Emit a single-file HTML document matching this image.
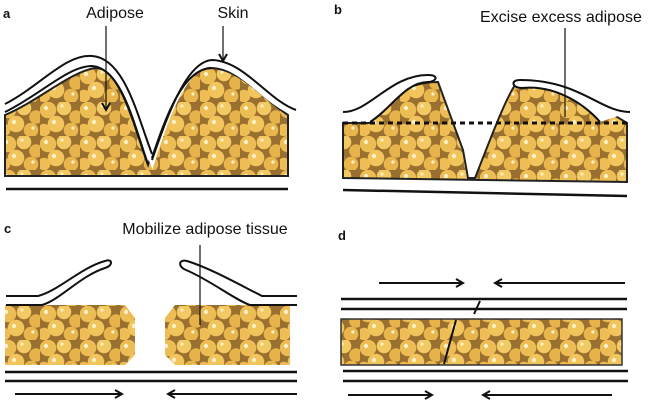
<!DOCTYPE html>
<html><head><style>
html,body{margin:0;padding:0;background:#fff;width:660px;height:404px;overflow:hidden}
svg{display:block}
text{font-family:"Liberation Sans",sans-serif;fill:#111}
</style></head><body>
<svg width="660" height="404" viewBox="0 0 660 404" xmlns="http://www.w3.org/2000/svg">
<defs>
<pattern id="fat" width="40" height="34" patternUnits="userSpaceOnUse">
<rect width="40" height="34" fill="#9a7030"/>
<circle cx="8" cy="8" r="8.3" fill="#ecbd55"/>
<circle cx="24" cy="6" r="7.3" fill="#f2c962"/>
<circle cx="36" cy="15" r="6.8" fill="#e6b24a"/>
<circle cx="16" cy="22" r="8.3" fill="#f1c45c"/>
<circle cx="31" cy="28" r="7.3" fill="#e9b64e"/>
<circle cx="4" cy="28" r="6.3" fill="#eebd55"/>
<circle cx="6" cy="6" r="2.2" fill="#fdf0c4"/>
<circle cx="14" cy="20" r="2.2" fill="#fdf0c4"/>
<circle cx="22" cy="4" r="1.6" fill="#fdf0c4"/>
<circle cx="33" cy="26" r="1.6" fill="#fdf0c4"/>
</pattern>
<marker id="ah" markerWidth="10" markerHeight="10" refX="8" refY="5" orient="auto" markerUnits="userSpaceOnUse">
<path d="M1,1 L8,5 L1,9" fill="none" stroke="#111" stroke-width="2"/>
</marker>
</defs>

<!-- Panel a -->
<text x="3" y="18" font-size="13" font-weight="bold">a</text>
<text x="115" y="18" font-size="16" text-anchor="middle">Adipose</text>
<text x="233" y="18" font-size="16" text-anchor="middle">Skin</text>
<path d="M5,115 C40,100 70,72 95,68 C120,66 135,130 148,165 C160,130 180,70 210,68 C240,68 265,100 288,115 L288,176 L5,176 Z" fill="url(#fat)" stroke="#222" stroke-width="2"/>
<path d="M5,108 C40,90 65,58 92,60 C125,62 138,120 152,156 C165,115 185,60 213,62 C245,65 265,100 296,112" fill="none" stroke="#fff" stroke-width="9"/>
<path d="M5,104 C40,86 65,54 92,56 C125,58 138,118 152,154" fill="none" stroke="#111" stroke-width="2"/>
<path d="M152,160 C166,120 186,60 213,60 C245,62 268,100 296,110" fill="none" stroke="#111" stroke-width="2"/>
<path d="M5,112 C40,95 68,66 92,66 C122,68 134,125 148,164" fill="none" stroke="#111" stroke-width="2"/>
<path d="M152,158 C165,118 183,68 212,68" fill="none" stroke="#111" stroke-width="2"/>
<line x1="106" y1="26" x2="106" y2="110" stroke="#111" stroke-width="1.2" marker-end="url(#ah)"/>
<line x1="223" y1="26" x2="223" y2="61" stroke="#111" stroke-width="1.2" marker-end="url(#ah)"/>
<line x1="6" y1="189" x2="288" y2="189" stroke="#111" stroke-width="2.5"/>

<!-- Panel b -->
<text x="334" y="14" font-size="13" font-weight="bold">b</text>
<text x="480" y="22" font-size="16">Excise excess adipose</text>
<path d="M343,123 L370,123 C385,100 405,82 438,82 L463,150 L468,178 L475,178 C490,140 505,100 515,85 C550,80 590,100 627,123 L627,182 L343,178 Z" fill="url(#fat)" stroke="#222" stroke-width="2"/>
<path d="M343,112 C370,112 390,75 428,75 C440,75 436,82 428,82 C405,82 390,110 370,122" fill="#fff" stroke="#111" stroke-width="2"/>
<path d="M630,112 C600,112 580,80 520,80 C510,80 512,88 522,88 C560,84 590,110 600,122" fill="#fff" stroke="#111" stroke-width="2"/>
<line x1="343" y1="123" x2="627" y2="123" stroke="#111" stroke-width="3" stroke-dasharray="5,4"/>
<line x1="565" y1="28" x2="565" y2="117" stroke="#111" stroke-width="1.2"/>
<line x1="343" y1="190" x2="627" y2="196" stroke="#111" stroke-width="2.5"/>

<!-- Panel c -->
<text x="4" y="233" font-size="13" font-weight="bold">c</text>
<text x="205" y="234" font-size="16" text-anchor="middle">Mobilize adipose tissue</text>
<path d="M5,305 L125,305 L135,318 L135,355 L125,365 L5,365 Z" fill="url(#fat)"/>
<path d="M175,305 L290,305 L290,365 L175,365 L165,355 L165,318 Z" fill="url(#fat)"/>
<path d="M6,296 L38,296 C60,290 80,268 105,261 C113,258 113,266 105,268 C80,276 60,300 42,305 L6,305" fill="#fff" stroke="#111" stroke-width="2"/>
<path d="M297,296 L262,296 C240,285 210,268 187,261 C178,259 178,267 186,270 C210,280 235,300 250,305 L297,305" fill="#fff" stroke="#111" stroke-width="2"/>
<line x1="200" y1="245" x2="200" y2="325" stroke="#111" stroke-width="1.2"/>
<line x1="5" y1="372" x2="297" y2="372" stroke="#111" stroke-width="2.5"/>
<line x1="5" y1="381" x2="297" y2="381" stroke="#111" stroke-width="2.5"/>
<line x1="15" y1="394" x2="122" y2="394" stroke="#111" stroke-width="2" marker-end="url(#ah)"/>
<line x1="297" y1="394" x2="168" y2="394" stroke="#111" stroke-width="2" marker-end="url(#ah)"/>

<!-- Panel d -->
<text x="338" y="240" font-size="13" font-weight="bold">d</text>
<line x1="379" y1="283" x2="463" y2="283" stroke="#111" stroke-width="2" marker-end="url(#ah)"/>
<line x1="625" y1="283" x2="495" y2="283" stroke="#111" stroke-width="2" marker-end="url(#ah)"/>
<line x1="341" y1="299" x2="627" y2="299" stroke="#111" stroke-width="2.5"/>
<line x1="341" y1="309" x2="627" y2="309" stroke="#111" stroke-width="2.5"/>
<line x1="480" y1="301" x2="474" y2="314" stroke="#111" stroke-width="2"/>
<rect x="341" y="319" width="281" height="46" fill="url(#fat)" stroke="#333" stroke-width="1.5"/>
<line x1="456" y1="320" x2="444" y2="364" stroke="#111" stroke-width="2"/>
<line x1="343" y1="371" x2="628" y2="371" stroke="#111" stroke-width="2.5"/>
<line x1="343" y1="381" x2="628" y2="381" stroke="#111" stroke-width="2.5"/>
<line x1="348" y1="395" x2="432" y2="395" stroke="#111" stroke-width="2" marker-end="url(#ah)"/>
<line x1="612" y1="395" x2="483" y2="395" stroke="#111" stroke-width="2" marker-end="url(#ah)"/>
</svg>
</body></html>
